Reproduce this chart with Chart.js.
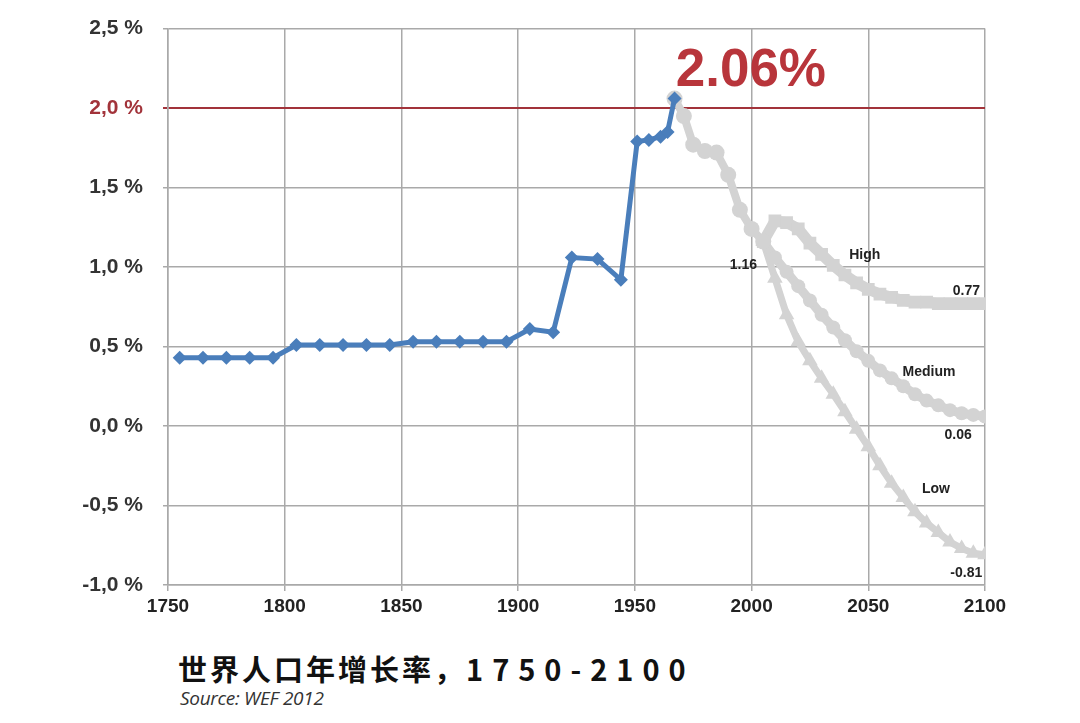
<!DOCTYPE html>
<html>
<head>
<meta charset="utf-8">
<script src="https://cdn.jsdelivr.net/npm/chart.js@4/dist/chart.umd.min.js"></script>
<style>
  body { margin: 0; background: #fff; width: 1080px; height: 723px; overflow: hidden; position: relative; }
  #wrap { position: absolute; left: 0; top: -4px; width: 1080px; height: 624px; }
  #title { position: absolute; left: 178px; top: 647px; line-height: 42px; font-family: "Noto Sans CJK SC", sans-serif; font-weight: 700; font-size: 29px; color: #111; white-space: nowrap; }
  #title .cn { letter-spacing: 3px; }
  #title .num { letter-spacing: 9px; }
  #source { position: absolute; left: 180px; top: 686px; line-height: 24px; font-family: "Open Sans", "Noto Sans", sans-serif; font-style: italic; font-size: 19px; color: #333; letter-spacing: -0.3px; }
</style>
</head>
<body>
<div id="wrap"><canvas id="chart" width="1080" height="624"></canvas></div>
<div id="title"><span class="cn">世界人口年增长率，</span><span class="num">1750-2100</span></div>
<div id="source">Source: WEF 2012</div>
<script>
// 歷史資料（藍線）
const histYears = [1755, 1765, 1775, 1785, 1795, 1805, 1815, 1825, 1835, 1845, 1855, 1865, 1875, 1885, 1895, 1905, 1915, 1923, 1934, 1944, 1951, 1956, 1961, 1964, 1967];
const histRates = [0.43, 0.43, 0.43, 0.43, 0.43, 0.51, 0.51, 0.51, 0.51, 0.51, 0.53, 0.53, 0.53, 0.53, 0.53, 0.61, 0.59, 1.06, 1.05, 0.92, 1.79, 1.80, 1.82, 1.85, 2.06];

// 1967 之後（灰線）
const recentYears = [1967, 1971, 1975, 1980, 1985, 1990, 1995, 2000, 2005];
const recentRates = [2.06, 1.95, 1.77, 1.73, 1.72, 1.58, 1.36, 1.24, 1.16];

// 推估：高 / 中 / 低
const projYears = [2005, 2010, 2015, 2020, 2025, 2030, 2035, 2040, 2045, 2050, 2055, 2060, 2065, 2070, 2075, 2080, 2085, 2090, 2095, 2100];
const highRates = [1.16, 1.29, 1.28, 1.24, 1.15, 1.08, 1.01, 0.95, 0.90, 0.86, 0.83, 0.81, 0.79, 0.78, 0.78, 0.77, 0.77, 0.77, 0.77, 0.77];
const mediumRates = [1.16, 1.06, 0.97, 0.88, 0.79, 0.70, 0.62, 0.54, 0.47, 0.41, 0.35, 0.30, 0.25, 0.20, 0.16, 0.13, 0.10, 0.08, 0.07, 0.06];
const lowRates = [1.16, 0.93, 0.70, 0.53, 0.41, 0.30, 0.20, 0.09, -0.02, -0.13, -0.25, -0.36, -0.45, -0.54, -0.61, -0.67, -0.73, -0.77, -0.80, -0.81];

// 註記文字
const peakText = '2.06%';
const peakAt = [1967.5, 2.14];
const noteTexts = ['High', '1.16', '0.77', 'Medium', '0.06', 'Low', '-0.81'];
const noteYears = [2048.5, 1996.5, 2092, 2076, 2088.5, 2079, 2092];
const noteRates = [1.075, 1.01, 0.85, 0.34, -0.06, -0.40, -0.925];

const xTicks = [1750, 1800, 1850, 1900, 1950, 2000, 2050, 2100];

const pts = (xs, ys) => xs.map((x, i) => ({ x, y: ys[i] }));
const GRAY = '#d3d3d3';
const BLUE = '#4a7ebb';
const RED = '#a2333a';

const notes = {
  id: 'notes',
  afterDatasetsDraw(chart) {
    const { ctx, scales: { x, y } } = chart;
    ctx.save();
    ctx.fillStyle = '#b8353b';
    ctx.font = 'bold 53px "Liberation Sans", Arial, sans-serif';
    ctx.textAlign = 'left';
    ctx.textBaseline = 'alphabetic';
    ctx.fillText(peakText, x.getPixelForValue(peakAt[0]), y.getPixelForValue(peakAt[1]));
    ctx.fillStyle = '#222';
    ctx.font = 'bold 14px "Liberation Sans", Arial, sans-serif';
    ctx.textAlign = 'center';
    ctx.textBaseline = 'middle';
    noteTexts.forEach((t, i) => {
      ctx.fillText(t, x.getPixelForValue(noteYears[i]), y.getPixelForValue(noteRates[i]));
    });
    ctx.restore();
  }
};

new Chart(document.getElementById('chart'), {
  type: 'line',
  data: {
    datasets: [
      { data: pts(histYears, histRates), borderColor: BLUE, backgroundColor: BLUE, borderWidth: 5,
        pointStyle: 'rectRot', pointRadius: 7, pointBorderWidth: 0 },
      { data: pts(recentYears, recentRates), borderColor: GRAY, backgroundColor: GRAY, borderWidth: 8,
        pointStyle: 'circle', pointRadius: 8, pointBorderWidth: 0 },
      { data: pts(projYears, highRates), borderColor: GRAY, backgroundColor: GRAY, borderWidth: 11,
        pointStyle: 'rect', pointRadius: 9, pointBorderWidth: 0 },
      { data: pts(projYears, mediumRates), borderColor: GRAY, backgroundColor: GRAY, borderWidth: 9,
        pointStyle: 'circle', pointRadius: 7, pointBorderWidth: 0 },
      { data: pts(projYears, lowRates), borderColor: GRAY, backgroundColor: GRAY, borderWidth: 7,
        pointStyle: 'triangle', pointRadius: 9, pointBorderWidth: 0 },
    ],
  },
  options: {
    responsive: false,
    animation: false,
    layout: { padding: { top: 24, right: 95, left: 0, bottom: 0 } },
    plugins: { legend: { display: false }, tooltip: { enabled: false } },
    scales: {
      x: {
        type: 'linear', min: 1750, max: 2100,
        afterBuildTicks: (s) => { s.ticks = xTicks.map(v => ({ value: v })); },
        afterFit: (s) => { s.height = 35; },
        grid: { color: '#a9a9a9', lineWidth: 1.5, tickLength: 6 },
        border: { color: '#a9a9a9', width: 1.5 },
        ticks: { color: '#222', padding: 4, callback: (v) => String(v),
          font: { family: '"Liberation Sans", Arial', size: 19, weight: 'bold' } },
      },
      y: {
        min: -1, max: 2.5,
        ticks: {
          stepSize: 0.5, padding: 20,
          color: (c) => (c.tick && c.tick.value === 2 ? RED : '#333'),
          font: { family: '"Liberation Sans", Arial', size: 21, weight: 'bold' },
          callback: (v) => v.toFixed(1).replace('.', ',') + ' %',
        },
        afterFit: (s) => { s.width = 168; },
        grid: {
          color: (c) => (c.tick && c.tick.value === 2 ? RED : '#a9a9a9'),
          lineWidth: (c) => (c.tick && c.tick.value === 2 ? 2 : 1.5),
          tickLength: 5,
        },
        border: { color: '#a9a9a9', width: 1.5 },
      },
    },
  },
  plugins: [notes],
});
</script>
</body>
</html>
